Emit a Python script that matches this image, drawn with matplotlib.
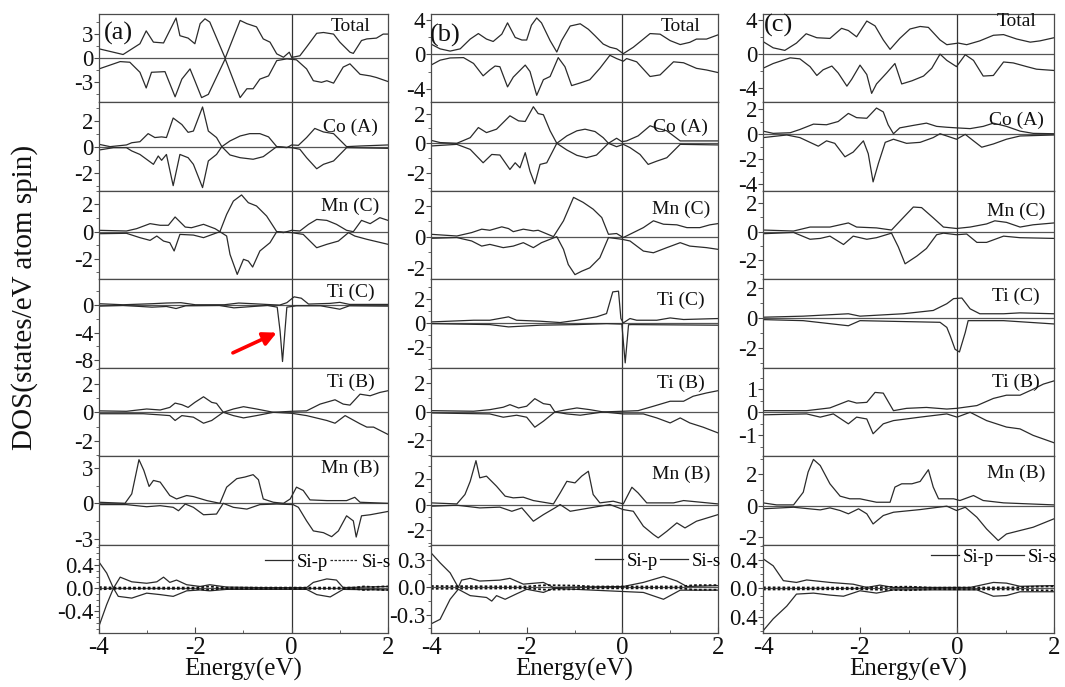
import matplotlib
matplotlib.use('Agg')
from matplotlib import pyplot as plt
from matplotlib.lines import Line2D
from matplotlib.ticker import AutoMinorLocator, FixedLocator, FixedFormatter, MultipleLocator

plt.rcParams['font.family'] = ['Liberation Serif', 'DejaVu Serif']
plt.rcParams['axes.unicode_minus'] = False

# ---------------- data: (energy eV, DOS) ----------------
# column (a)
A_TOTAL_UP = [(-4.00, 1.17), (-3.50, 0.46), (-3.15, 1.8), (-3.02, 3.4), (-2.87, 2.0), (-2.66, 1.9), (-2.53, 3.46),
              (-2.40, 5.0), (-2.32, 2.8), (-2.15, 2.5), (-2.01, 1.8), (-1.90, 4.3), (-1.80, 4.9), (-1.70, 4.5),
              (-1.38, 0.0), (-1.07, 4.7), (-0.93, 4.3), (-0.73, 3.9), (-0.59, 2.4), (-0.45, 2.0), (-0.31, 0.54),
              (-0.17, 0.12), (-0.05, 0.75), (0.00, 0.1), (0.17, 0.3), (0.31, 1.4), (0.52, 3.1), (0.66, 3.2),
              (0.87, 3.0), (1.00, 2.0), (1.21, 0.75), (1.28, 0.6), (1.45, 2.2), (1.56, 2.4), (1.76, 2.5),
              (1.90, 3.0), (2.00, 3.0)]
A_TOTAL_DN = [(-4.00, -1.33), (-3.56, -0.42), (-3.36, -0.5), (-3.15, -1.75), (-3.02, -3.7), (-2.91, -1.75),
              (-2.63, -1.67), (-2.42, -4.8), (-2.28, -2.6), (-2.11, -1.33), (-2.01, -2.8), (-1.87, -4.9),
              (-1.73, -4.5), (-1.38, -0.08), (-1.07, -4.9), (-0.93, -3.8), (-0.80, -3.8), (-0.66, -2.6),
              (-0.48, -2.2), (-0.31, -0.3), (-0.10, -0.08), (0.10, -0.2), (0.31, -1.33), (0.45, -2.8),
              (0.62, -3.0), (0.73, -2.8), (0.87, -3.1), (1.07, -1.1), (1.21, -0.7), (1.42, -2.0), (1.63, -2.2),
              (1.76, -2.4), (2.00, -2.9)]
A_COA_UP = [(-4.00, 0.18), (-3.77, 0.0), (-3.43, 0.13), (-3.32, 0.3), (-3.15, 0.38), (-2.98, 1.0), (-2.84, 0.7),
            (-2.70, 0.75), (-2.60, 0.7), (-2.46, 2.2), (-2.28, 1.7), (-2.15, 1.1), (-2.04, 1.2), (-1.85, 3.05),
            (-1.73, 1.2), (-1.56, 0.7), (-1.45, 0.0), (-1.28, 0.44), (-1.07, 0.82), (-0.87, 1.0), (-0.66, 1.0),
            (-0.48, 0.75), (-0.31, 0.0), (-0.10, -0.08), (0.00, 0.13), (0.14, 0.1), (0.31, 0.7), (0.48, 1.4),
            (0.66, 1.13), (0.87, 1.0), (1.14, 0.0), (1.42, 0.05), (2.00, 0.13)]
A_COA_DN = [(-4.00, -0.26), (-3.70, -0.08), (-3.43, -0.08), (-3.32, -0.33), (-3.15, -0.6), (-2.87, -1.36),
            (-2.77, -0.72), (-2.70, -1.05), (-2.60, -0.6), (-2.46, -3.0), (-2.32, -0.6), (-2.15, -0.85),
            (-2.04, -1.36), (-1.85, -3.15), (-1.73, -1.1), (-1.56, -0.6), (-1.45, 0.0), (-1.28, -0.64),
            (-1.07, -0.85), (-0.80, -0.97), (-0.59, -0.77), (-0.31, 0.0), (0.00, -0.08), (0.17, -0.2),
            (0.31, -0.85), (0.52, -1.7), (0.66, -1.36), (0.87, -1.1), (1.14, -0.08), (2.00, -0.13)]
A_MNC_UP = [(-4.00, 0.1), (-3.43, 0.05), (-3.22, 0.22), (-2.94, 0.59), (-2.73, 0.47), (-2.56, 0.47), (-2.42, 1.08),
            (-2.21, 0.34), (-2.08, 0.29), (-1.83, 0.54), (-1.59, 0.22), (-1.49, 0.0), (-1.35, 1.27), (-1.21, 2.25),
            (-1.04, 2.7), (-0.90, 2.13), (-0.73, 1.89), (-0.52, 1.15), (-0.31, 0.0), (-0.17, -0.07), (0.00, 0.1),
            (0.17, 0.05), (0.35, 0.54), (0.52, 0.9), (0.73, 0.83), (0.93, 0.54), (1.14, 0.1), (1.28, 0.0),
            (1.45, 0.83), (1.63, 0.59), (1.83, 1.03), (2.00, 0.83)]
A_MNC_DN = [(-4.00, -0.15), (-3.43, -0.12), (-3.15, -0.44), (-2.94, -0.64), (-2.80, -0.32), (-2.66, -0.69),
            (-2.53, -0.81), (-2.44, -1.42), (-2.32, -0.2), (-2.04, -0.25), (-1.83, -0.44), (-1.49, 0.0),
            (-1.35, -0.32), (-1.28, -1.67), (-1.13, -3.14), (-1.00, -2.03), (-0.90, -2.16), (-0.81, -2.6),
            (-0.66, -1.42), (-0.45, -0.81), (-0.31, 0.0), (0.00, -0.07), (0.24, -0.2), (0.52, -1.18),
            (0.73, -0.93), (0.97, -0.69), (1.18, -0.07), (1.31, -0.32), (1.56, -0.56), (2.00, -0.93)]
A_TIC_UP = [(-4.00, 0.2), (-3.50, 0.05), (-2.90, 0.2), (-2.60, 0.3), (-2.30, 0.35), (-2.00, 0.05), (-1.40, 0.05),
            (-1.10, 0.3), (-0.80, 0.2), (-0.40, 0.05), (-0.25, 0.0), (-0.10, 0.35), (0.05, 1.2), (0.20, 1.0),
            (0.35, 0.15), (0.80, 0.25), (1.00, 0.4), (1.20, 0.1), (2.00, 0.1)]
A_TIC_DN = [(-4.00, -0.15), (-3.50, -0.05), (-2.90, -0.3), (-2.60, -0.2), (-2.40, -0.5), (-2.20, -0.1),
            (-1.50, -0.05), (-1.20, -0.4), (-0.90, -0.25), (-0.50, -0.05), (-0.30, -0.3), (-0.24, -3.8),
            (-0.19, -8.2), (-0.14, -3.8), (-0.10, -0.3), (0.10, -0.1), (0.60, -0.1), (1.00, -0.6), (1.20, -0.1),
            (2.00, -0.15)]
A_TIB_UP = [(-4.00, 0.1), (-3.43, 0.07), (-3.01, 0.23), (-2.73, 0.16), (-2.53, 0.34), (-2.42, 0.64), (-2.28, 0.53),
            (-2.15, 0.34), (-2.01, 0.69), (-1.83, 1.08), (-1.66, 0.69), (-1.56, 0.62), (-1.42, 0.0), (-1.21, 0.23),
            (-1.00, 0.39), (-0.73, 0.23), (-0.38, 0.0), (0.00, 0.07), (0.31, 0.1), (0.59, 0.57), (0.90, 0.87),
            (1.07, 0.57), (1.21, 0.5), (1.42, 1.26), (1.63, 1.15), (1.83, 1.38), (2.00, 1.5)]
A_TIB_DN = [(-4.00, -0.1), (-3.08, -0.1), (-2.73, -0.18), (-2.53, -0.23), (-2.42, -0.57), (-2.28, -0.23),
            (-2.04, -0.34), (-1.83, -0.76), (-1.66, -0.57), (-1.42, 0.0), (-1.21, -0.23), (-1.00, -0.39),
            (-0.73, -0.23), (-0.38, 0.0), (0.00, -0.07), (0.31, -0.23), (0.73, -0.57), (0.90, -0.76),
            (1.11, -0.23), (1.42, -0.8), (1.56, -1.03), (1.70, -1.03), (2.00, -1.54)]
A_MNB_UP = [(-4.00, 0.09), (-3.46, 0.0), (-3.32, 0.8), (-3.17, 3.7), (-3.07, 2.8), (-2.96, 1.43), (-2.87, 1.94),
            (-2.73, 1.8), (-2.53, 0.66), (-2.39, 0.37), (-2.18, 0.66), (-2.04, 0.57), (-1.76, 0.23), (-1.49, 0.0),
            (-1.35, 1.37), (-1.14, 2.09), (-0.97, 2.23), (-0.80, 2.43), (-0.69, 2.0), (-0.59, 0.37), (-0.38, 0.09),
            (-0.17, 0.0), (-0.03, 0.37), (0.10, 1.37), (0.24, 1.09), (0.38, 0.29), (0.73, 0.23), (1.14, 0.23),
            (1.31, 0.51), (1.42, 0.09), (2.00, 0.0)]
A_MNB_DN = [(-4.00, -0.11), (-3.43, -0.11), (-3.01, -0.29), (-2.73, -0.2), (-2.46, -0.34), (-2.35, -0.63),
            (-2.21, -0.06), (-2.04, -0.34), (-1.83, -0.97), (-1.56, -0.91), (-1.42, 0.0), (-1.21, -0.34),
            (-0.93, -0.49), (-0.66, -0.11), (-0.31, -0.06), (0.03, -0.11), (0.14, -0.34), (0.31, -1.49),
            (0.45, -2.34), (0.66, -2.49), (0.83, -2.83), (0.97, -2.34), (1.14, -1.06), (1.28, -1.49),
            (1.34, -2.86), (1.45, -1.06), (1.63, -0.97), (2.00, -0.69)]
A_SIP_UP = [(-4.00, 0.45), (-3.84, 0.26), (-3.70, 0.0), (-3.56, 0.19), (-3.32, 0.11), (-3.01, 0.085), (-2.80, 0.11),
            (-2.66, 0.19), (-2.53, 0.1), (-2.39, 0.14), (-2.18, 0.06), (-1.90, 0.03), (-1.70, 0.06), (-1.35, 0.02),
            (-0.66, 0.01), (0.31, 0.01), (0.45, 0.1), (0.73, 0.16), (0.93, 0.14), (1.07, 0.01), (2.00, 0.03)]
A_SIP_DN = [(-4.00, -0.65), (-3.84, -0.28), (-3.70, 0.0), (-3.60, -0.14), (-3.32, -0.17), (-3.01, -0.085),
            (-2.73, -0.11), (-2.46, -0.14), (-2.18, -0.045), (-1.90, -0.03), (-1.70, -0.045), (-1.35, -0.02),
            (0.31, -0.02), (0.52, -0.11), (0.80, -0.15), (1.07, -0.02), (2.00, -0.03)]
A_SIS_UP = [(-4.00, 0.02), (-3.70, 0.01), (-2.00, 0.01), (-1.70, 0.03), (-1.50, 0.01), (1.30, 0.01), (1.50, 0.03),
            (1.70, 0.02), (1.90, 0.03), (2.00, 0.03)]
A_SIS_DN = [(-4.00, -0.02), (-3.70, -0.01), (-2.00, -0.01), (-1.70, -0.03), (-1.50, -0.01), (1.30, -0.01),
            (1.50, -0.03), (1.70, -0.02), (1.90, -0.03), (2.00, -0.03)]

# column (b)
B_TOTAL_UP = [(-4.00, 1.2), (-3.81, 0.64), (-3.60, 0.38), (-3.39, 0.64), (-3.18, 1.78), (-3.01, 2.42), (-2.84, 1.78),
              (-2.70, 1.5), (-2.52, 2.35), (-2.40, 3.67), (-2.24, 1.97), (-2.10, 1.67), (-2.00, 1.67), (-1.90, 3.4),
              (-1.79, 4.24), (-1.69, 3.67), (-1.51, 1.6), (-1.37, 0.27), (-1.27, 1.6), (-1.09, 3.3), (-0.88, 3.56),
              (-0.71, 2.92), (-0.57, 2.16), (-0.40, 1.2), (-0.26, 0.83), (-0.12, 0.64), (0.02, 0.08), (0.23, 0.83),
              (0.44, 1.78), (0.58, 2.42), (0.79, 2.35), (1.00, 1.6), (1.21, 1.14), (1.41, 1.4), (1.55, 1.78),
              (1.76, 1.78), (2.00, 2.27)]
B_TOTAL_DN = [(-4.00, -1.25), (-3.81, -0.68), (-3.60, -0.42), (-3.32, -0.38), (-3.11, -1.06), (-2.91, -2.5),
              (-2.77, -1.82), (-2.66, -1.36), (-2.56, -1.44), (-2.40, -3.79), (-2.28, -2.65), (-2.03, -1.25),
              (-1.93, -2.0), (-1.79, -4.77), (-1.65, -2.95), (-1.51, -2.58), (-1.34, -0.38), (-1.20, -1.44),
              (-1.06, -3.64), (-0.88, -3.33), (-0.68, -2.95), (-0.47, -1.63), (-0.26, -0.11), (-0.12, -0.49),
              (0.02, -0.8), (0.09, -0.49), (0.30, -0.87), (0.58, -2.58), (0.79, -2.39), (1.07, -0.87),
              (1.28, -0.98), (1.55, -1.63), (1.76, -1.82), (2.00, -2.12)]
B_COA_UP = [(-4.00, 0.2), (-3.81, 0.05), (-3.46, 0.0), (-3.18, 0.38), (-3.01, 1.06), (-2.84, 0.72), (-2.63, 0.95),
            (-2.35, 1.85), (-2.17, 1.51), (-2.03, 1.47), (-1.86, 2.46), (-1.76, 2.0), (-1.65, 1.92), (-1.51, 0.84),
            (-1.37, 0.0), (-1.16, 0.5), (-0.95, 0.84), (-0.78, 0.95), (-0.57, 0.79), (-0.40, 0.38), (-0.29, 0.0),
            (-0.12, 0.34), (-0.01, 0.11), (0.09, 0.16), (0.33, 0.5), (0.58, 1.18), (0.72, 1.02), (0.93, 0.84),
            (1.21, 0.16), (2.00, 0.16)]
B_COA_DN = [(-4.00, -0.18), (-3.46, -0.07), (-3.18, -0.41), (-2.91, -1.31), (-2.73, -0.75), (-2.56, -0.79),
            (-2.35, -1.76), (-2.24, -1.31), (-2.14, -1.65), (-2.03, -0.63), (-1.93, -1.88), (-1.83, -2.73),
            (-1.72, -1.42), (-1.58, -1.31), (-1.37, 0.0), (-1.16, -0.45), (-0.95, -0.81), (-0.75, -0.97),
            (-0.54, -0.79), (-0.29, 0.0), (-0.12, -0.23), (0.02, -0.07), (0.16, -0.29), (0.37, -0.75),
            (0.54, -1.42), (0.72, -1.2), (0.93, -0.97), (1.21, -0.07), (2.00, -0.11)]
B_MNC_UP = [(-4.00, 0.15), (-3.46, 0.04), (-3.15, 0.26), (-2.94, 0.48), (-2.77, 0.41), (-2.52, 0.63), (-2.38, 0.52),
            (-2.28, 0.32), (-2.07, 0.48), (-1.86, 0.37), (-1.76, 0.41), (-1.44, 0.0), (-1.23, 1.02), (-1.02, 2.53),
            (-0.82, 2.21), (-0.61, 1.77), (-0.43, 1.23), (-0.29, 0.15), (-0.12, 0.2), (0.02, -0.06), (0.23, 0.26),
            (0.44, 0.58), (0.65, 1.02), (0.86, 0.8), (1.14, 0.76), (1.35, 0.58), (1.62, 0.58), (1.83, 0.76),
            (2.00, 0.84)]
B_MNC_DN = [(-4.00, -0.11), (-3.46, -0.06), (-3.15, -0.28), (-2.94, -0.61), (-2.77, -0.5), (-2.49, -0.71),
            (-2.28, -0.61), (-2.07, -0.39), (-1.86, -0.71), (-1.69, -0.39), (-1.37, 0.0), (-1.23, -0.82),
            (-1.13, -1.8), (-0.99, -2.45), (-0.85, -2.23), (-0.68, -2.01), (-0.47, -1.36), (-0.29, -0.06),
            (-0.01, -0.17), (0.16, -0.28), (0.44, -0.93), (0.65, -1.04), (0.93, -0.71), (1.21, -0.39),
            (1.41, -0.61), (1.76, -0.71), (2.00, -0.82)]
B_TIC_UP = [(-4.00, 0.08), (-3.11, 0.22), (-2.77, 0.22), (-2.38, 0.5), (-2.21, 0.22), (-1.72, 0.14), (-1.30, 0.03),
            (-0.95, 0.22), (-0.54, 0.5), (-0.33, 0.77), (-0.20, 2.56), (-0.08, 2.62), (-0.03, 0.36), (0.02, 0.0),
            (0.16, 0.36), (0.30, 0.22), (0.72, 0.22), (1.00, 0.41), (1.28, 0.28), (2.00, 0.36)]
B_TIC_DN = [(-4.00, -0.06), (-2.77, -0.14), (-2.38, -0.33), (-1.72, -0.19), (-0.95, -0.14), (-0.33, -0.06),
            (-0.01, -0.1), (0.02, -1.5), (0.06, -3.3), (0.10, -1.5), (0.13, -0.15), (0.20, -0.14), (2.00, -0.19)]
B_TIB_UP = [(-4.00, 0.09), (-3.11, 0.05), (-2.77, 0.16), (-2.49, 0.33), (-2.35, 0.51), (-2.17, 0.28), (-2.00, 0.4),
            (-1.83, 0.93), (-1.65, 0.58), (-1.51, 0.51), (-1.41, 0.0), (-1.16, 0.16), (-0.95, 0.28), (-0.68, 0.16),
            (-0.40, 0.0), (0.02, 0.05), (0.33, 0.09), (0.65, 0.4), (1.00, 0.75), (1.28, 0.75), (1.48, 1.1),
            (1.76, 1.33), (2.00, 1.49)]
B_TIB_DN = [(-4.00, -0.07), (-2.77, -0.14), (-2.49, -0.37), (-2.21, -0.23), (-2.00, -0.37), (-1.83, -1.07),
            (-1.65, -0.65), (-1.41, 0.0), (-1.16, -0.14), (-0.88, -0.23), (-0.40, 0.0), (0.02, -0.14),
            (0.44, -0.14), (0.72, -0.42), (1.00, -0.77), (1.21, -0.42), (1.41, -0.77), (1.69, -1.07),
            (2.00, -1.47)]
B_MNB_UP = [(-4.00, 0.13), (-3.46, 0.05), (-3.29, 0.78), (-3.18, 1.8), (-3.06, 3.4), (-2.98, 2.07), (-2.84, 2.2),
            (-2.63, 1.42), (-2.45, 0.65), (-2.28, 0.52), (-2.07, 0.57), (-1.86, 0.31), (-1.44, 0.05), (-1.30, 0.9),
            (-1.16, 1.8), (-0.99, 1.68), (-0.85, 2.2), (-0.71, 2.58), (-0.61, 0.78), (-0.47, 0.13), (-0.19, 0.26),
            (0.02, 0.05), (0.20, 1.34), (0.33, 0.9), (0.51, 0.13), (1.07, 0.13), (1.28, 0.31), (2.00, 0.05)]
B_MNB_DN = [(-4.00, -0.13), (-3.46, -0.05), (-2.98, -0.26), (-2.56, -0.2), (-2.31, -0.52), (-2.10, -0.26),
            (-1.86, -1.29), (-1.65, -0.78), (-1.41, -0.26), (-1.30, 0.0), (-1.09, -0.52), (-0.68, -0.26),
            (-0.26, 0.0), (0.02, -0.39), (0.23, -0.52), (0.44, -1.68), (0.65, -2.32), (0.75, -2.58),
            (0.93, -2.07), (1.14, -1.42), (1.31, -1.81), (1.55, -1.29), (2.00, -0.78)]
B_SIP_UP = [(-4.00, 0.38), (-3.81, 0.27), (-3.60, 0.16), (-3.43, 0.0), (-3.36, 0.08), (-3.18, 0.1), (-2.98, 0.07),
            (-2.56, 0.08), (-2.35, 0.1), (-2.07, 0.036), (-1.65, 0.055), (-1.44, 0.0), (0.02, 0.01), (0.44, 0.055),
            (0.86, 0.12), (1.14, 0.07), (1.35, 0.01), (2.00, 0.02)]
B_SIP_DN = [(-4.00, -0.4), (-3.81, -0.35), (-3.60, -0.13), (-3.43, -0.02), (-3.18, -0.09), (-2.84, -0.11),
            (-2.73, -0.15), (-2.63, -0.09), (-2.45, -0.13), (-2.21, -0.07), (-2.00, -0.02), (-1.65, -0.055),
            (-1.44, -0.01), (0.44, -0.055), (0.86, -0.13), (1.21, -0.03), (2.00, -0.03)]
B_SIS_UP = [(-4.00, 0.015), (-2.00, 0.01), (-1.60, 0.025), (-1.00, 0.02), (-0.60, 0.01), (1.20, 0.01),
            (1.50, 0.025), (2.00, 0.025)]
B_SIS_DN = [(-4.00, -0.015), (-2.00, -0.01), (-1.60, -0.025), (-1.00, -0.02), (-0.60, -0.01), (1.20, -0.01),
            (1.50, -0.025), (2.00, -0.025)]

# column (c)
C_TOTAL_UP = [(-4.00, 1.48), (-3.79, 0.74), (-3.55, 0.44), (-3.31, 1.3), (-3.11, 2.4), (-2.89, 1.93), (-2.62, 1.85),
              (-2.38, 3.04), (-2.24, 2.78), (-2.07, 2.04), (-1.86, 3.9), (-1.69, 3.33), (-1.52, 1.67), (-1.38, 0.56),
              (-1.18, 1.85), (-0.97, 2.96), (-0.76, 3.26), (-0.59, 3.15), (-0.35, 1.67), (-0.21, 1.11), (0.03, 1.3),
              (0.20, 1.11), (0.47, 1.56), (0.75, 2.22), (0.96, 2.3), (1.23, 1.78), (1.51, 1.41), (1.71, 1.56),
              (2.00, 1.93)]
C_TOTAL_DN = [(-4.00, -1.67), (-3.79, -1.11), (-3.44, -0.44), (-3.24, -0.56), (-3.03, -1.48), (-2.89, -2.52),
              (-2.76, -1.85), (-2.58, -1.41), (-2.45, -2.22), (-2.27, -3.78), (-2.17, -2.96), (-2.00, -1.3),
              (-1.86, -2.41), (-1.76, -4.63), (-1.66, -3.52), (-1.45, -2.22), (-1.28, -1.11), (-1.14, -3.52),
              (-0.93, -3.15), (-0.69, -2.59), (-0.52, -1.67), (-0.35, 0.0), (-0.21, -0.74), (-0.01, -1.48),
              (0.17, -0.07), (0.34, -0.74), (0.54, -2.59), (0.75, -2.52), (0.96, -0.93), (1.16, -1.04),
              (1.44, -1.48), (1.64, -1.78), (2.00, -1.93)]
C_COA_UP = [(-4.00, 0.26), (-3.79, 0.08), (-3.44, 0.13), (-3.24, 0.39), (-2.96, 0.82), (-2.69, 0.77), (-2.45, 1.03),
            (-2.24, 1.68), (-2.07, 1.34), (-1.86, 1.29), (-1.66, 2.11), (-1.52, 1.8), (-1.42, 0.77), (-1.31, 0.05),
            (-1.18, 0.52), (-0.90, 0.72), (-0.63, 0.9), (-0.42, 0.64), (-0.21, 0.57), (-0.01, 0.52), (0.27, 0.46),
            (0.54, 0.64), (0.75, 0.9), (1.02, 0.64), (1.30, 0.26), (1.57, 0.08), (2.00, 0.05)]
C_COA_DN = [(-4.00, -0.26), (-3.51, -0.05), (-3.24, -0.26), (-2.86, -0.95), (-2.69, -0.52), (-2.52, -0.72),
            (-2.31, -1.8), (-2.14, -1.42), (-1.93, -0.52), (-1.83, -1.55), (-1.73, -3.81), (-1.62, -2.32),
            (-1.48, -0.64), (-1.31, -0.39), (-1.04, -0.72), (-0.76, -0.64), (-0.49, -0.26), (-0.35, 0.05),
            (-0.21, -0.13), (-0.01, -0.39), (0.17, 0.0), (0.34, -0.52), (0.51, -1.03), (0.75, -0.77),
            (1.02, -0.39), (1.30, -0.13), (2.00, -0.05)]
C_MNC_UP = [(-4.00, 0.11), (-3.37, 0.04), (-3.03, 0.32), (-2.62, 0.32), (-2.24, 0.61), (-2.07, 0.32), (-1.66, 0.26),
            (-1.35, 0.11), (-1.14, 0.87), (-0.90, 1.73), (-0.73, 1.69), (-0.49, 0.97), (-0.28, 0.32), (-0.01, 0.22),
            (0.27, 0.32), (0.61, 0.54), (0.78, 0.76), (1.02, 0.65), (1.30, 0.32), (1.57, 0.48), (2.00, 0.61)]
C_MNC_DN = [(-4.00, -0.15), (-3.37, -0.06), (-3.03, -0.54), (-2.82, -0.48), (-2.62, -0.32), (-2.34, -0.91),
            (-2.14, -0.32), (-1.86, -0.54), (-1.66, -0.43), (-1.35, -0.11), (-1.21, -1.08), (-1.07, -2.27),
            (-0.83, -1.73), (-0.63, -1.19), (-0.42, -0.22), (-0.28, -0.11), (-0.01, -0.22), (0.20, -0.17),
            (0.41, -0.76), (0.61, -0.76), (0.96, -0.32), (1.30, -0.43), (2.00, -0.48)]
C_TIC_UP = [(-4.00, 0.07), (-3.17, 0.14), (-2.24, 0.3), (-2.00, 0.14), (-1.11, 0.3), (-0.49, 0.52), (-0.21, 0.97),
            (-0.07, 1.31), (0.10, 1.35), (0.27, 0.63), (0.47, 0.3), (0.96, 0.3), (1.30, 0.36), (2.00, 0.3)]
C_TIC_DN = [(-4.00, -0.09), (-3.17, -0.16), (-2.24, -0.5), (-2.00, -0.16), (-1.11, -0.22), (-0.35, -0.27),
            (-0.21, -0.61), (-0.14, -1.17), (-0.04, -2.07), (0.05, -2.25), (0.17, -0.95), (0.23, -0.16),
            (0.96, -0.16), (2.00, -0.38)]
C_TIB_UP = [(-4.00, 0.07), (-3.10, 0.07), (-2.62, 0.19), (-2.24, 0.5), (-2.07, 0.4), (-1.86, 0.43), (-1.69, 0.86),
            (-1.52, 0.83), (-1.31, 0.07), (-1.04, 0.17), (-0.63, 0.21), (-0.21, 0.14), (-0.01, 0.17), (0.41, 0.29),
            (0.75, 0.6), (1.02, 0.74), (1.30, 0.74), (1.57, 1.0), (1.78, 1.22), (2.00, 1.36)]
C_TIB_DN = [(-4.00, -0.11), (-3.10, -0.07), (-2.82, -0.21), (-2.55, -0.07), (-2.24, -0.5), (-2.07, -0.21),
            (-1.86, -0.29), (-1.73, -0.93), (-1.52, -0.5), (-1.31, -0.36), (-0.76, -0.21), (-0.21, -0.07),
            (0.00, -0.21), (0.27, 0.0), (0.61, -0.36), (1.02, -0.64), (1.30, -0.72), (1.57, -1.0), (2.00, -1.32)]
C_MNB_UP = [(-4.00, 0.17), (-3.72, 0.04), (-3.37, 0.04), (-3.17, 0.85), (-3.07, 2.14), (-2.96, 2.95), (-2.82, 2.56),
            (-2.62, 1.39), (-2.41, 0.6), (-2.21, 0.43), (-2.00, 0.43), (-1.66, 0.21), (-1.38, 0.21), (-1.28, 1.18),
            (-1.14, 1.39), (-0.93, 1.39), (-0.76, 1.54), (-0.59, 2.29), (-0.49, 1.18), (-0.38, 0.43), (-0.07, 0.43),
            (0.06, 0.32), (0.34, 0.64), (0.54, 0.32), (0.96, 0.17), (2.00, 0.04)]
C_MNB_DN = [(-4.00, -0.21), (-3.37, -0.11), (-2.82, -0.28), (-2.62, -0.15), (-2.41, -0.32), (-2.24, -0.53),
            (-2.03, -0.21), (-1.86, -0.53), (-1.73, -1.18), (-1.52, -0.64), (-1.31, -0.43), (-0.76, -0.26),
            (-0.21, -0.04), (-0.01, -0.32), (0.17, -0.11), (0.41, -0.75), (0.61, -1.5), (0.85, -2.24),
            (1.02, -1.82), (1.30, -1.6), (1.57, -1.39), (2.00, -0.85)]
C_SIP_UP = [(-4.00, 0.42), (-3.79, 0.32), (-3.58, 0.11), (-3.31, 0.085), (-3.10, 0.12), (-2.62, 0.085),
            (-2.14, 0.06), (-1.86, 0.014), (-1.59, 0.047), (-1.31, 0.014), (0.27, 0.014), (0.75, 0.085),
            (1.02, 0.075), (1.30, 0.03), (2.00, 0.04)]
C_SIP_DN = [(-4.00, -0.6), (-3.79, -0.43), (-3.51, -0.25), (-3.31, -0.08), (-2.96, -0.066), (-2.62, -0.094),
            (-2.34, -0.11), (-2.00, -0.033), (-1.66, -0.066), (-1.31, -0.02), (0.41, -0.02), (0.75, -0.11),
            (1.02, -0.1), (1.30, -0.047), (2.00, -0.047)]
C_SIS_UP = [(-4.00, 0.015), (-2.00, 0.01), (-1.50, 0.02), (-1.00, 0.025), (-0.50, 0.01), (1.20, 0.015),
            (1.60, 0.025), (2.00, 0.03)]
C_SIS_DN = [(-4.00, -0.015), (-2.00, -0.01), (-1.50, -0.02), (-1.00, -0.025), (-0.50, -0.01), (1.20, -0.015),
            (1.60, -0.025), (2.00, -0.03)]

PANEL_NAMES = ['Total', 'Co (A)', 'Mn (C)', 'Ti (C)', 'Ti (B)', 'Mn (B)', None]
COLUMN_LETTERS = ['(a)', '(b)', '(c)']
CURVES = [
    [(A_TOTAL_UP, A_TOTAL_DN), (A_COA_UP, A_COA_DN), (A_MNC_UP, A_MNC_DN), (A_TIC_UP, A_TIC_DN),
     (A_TIB_UP, A_TIB_DN), (A_MNB_UP, A_MNB_DN), (A_SIP_UP, A_SIP_DN, A_SIS_UP, A_SIS_DN)],
    [(B_TOTAL_UP, B_TOTAL_DN), (B_COA_UP, B_COA_DN), (B_MNC_UP, B_MNC_DN), (B_TIC_UP, B_TIC_DN),
     (B_TIB_UP, B_TIB_DN), (B_MNB_UP, B_MNB_DN), (B_SIP_UP, B_SIP_DN, B_SIS_UP, B_SIS_DN)],
    [(C_TOTAL_UP, C_TOTAL_DN), (C_COA_UP, C_COA_DN), (C_MNC_UP, C_MNC_DN), (C_TIC_UP, C_TIC_DN),
     (C_TIB_UP, C_TIB_DN), (C_MNB_UP, C_MNB_DN), (C_SIP_UP, C_SIP_DN, C_SIS_UP, C_SIS_DN)],
]
Y_TICKS = [
    [[-3, 0, 3], [-2, 0, 2], [-2, 0, 2], [-8, -4, 0], [-2, 0, 2], [-3, 0, 3], [-0.4, 0.0, 0.4]],
    [[-4, 0, 4], [-2, 0, 2], [-2, 0, 2], [-2, 0, 2], [-2, 0, 2], [-2, 0, 2], [-0.3, 0.0, 0.3]],
    [[-4, 0, 4], [-4, -2, 0, 2], [-2, 0, 2], [-2, 0, 2], [-1, 0, 1], [-2, 0, 2], [-0.4, 0.0, 0.4]],
]
SI_TICK_LABELS = [['-0.4', '0.0', '0.4'], ['-0.3', '0.0', '0.3'], ['0.4', '0.0', '0.4']]

# ---------------- layout / style ----------------
Y_LIMS = [
    [(-5.5, 5.5), (-3.4, 3.4), (-3.5, 3.0), (-9.1, 3.75), (-3.05, 3.1), (-3.5, 4.0), (-0.77, 0.75)],
    [(-5.6, 4.7), (-3.2, 2.75), (-2.75, 2.95), (-3.7, 3.6), (-3.1, 3.1), (-3.1, 3.75), (-0.5, 0.47)],
    [(-5.7, 4.73), (-4.53, 2.56), (-3.36, 2.87), (-3.3, 2.6), (-1.9, 1.93), (-2.5, 3.16), (-0.63, 0.62)],
]
NAME_Y = [
    [0.856, 0.717, 0.83, 0.853, 0.83, 0.857],
    [0.856, 0.717, 0.793, 0.767, 0.822, 0.793],
    [0.913, 0.80, 0.766, 0.804, 0.83, 0.80],
]
LETTER_POS = [(0.067, 0.78), (0.049, 0.76), (0.053, 0.876)]
LEGEND_Y = [0.80, 0.81, 0.86]
SIS_LEGEND_STYLE = [(0, (2, 1.2)), '-', '-']

FIG_W, FIG_H = 1065, 687
COL_PX = [(99, 289), (431, 287), (763, 291)]
TOP_PX, ROW_PX = 14, 88.43
LINE_C = '#2b2b2b'
AXIS_C = '#4a4a4a'

fig = plt.figure(figsize=(FIG_W / 100, FIG_H / 100), dpi=100)

for c, (left_px, width_px) in enumerate(COL_PX):
    axes = []
    for r in range(7):
        bottom_px = TOP_PX + (r + 1) * ROW_PX
        ax = fig.add_axes([left_px / FIG_W, 1 - bottom_px / FIG_H, width_px / FIG_W, ROW_PX / FIG_H])
        axes.append(ax)
        curves = CURVES[c][r]
        up, dn = curves[0], curves[1]
        ax.plot(*zip(*up), color=LINE_C, lw=0.9)
        ax.plot(*zip(*dn), color=LINE_C, lw=0.9)
        if len(curves) > 2:
            ax.plot(*zip(*curves[2]), color='#111111', lw=1.3, ls=(0, (1.5, 1.2)))
            ax.plot(*zip(*curves[3]), color='#111111', lw=1.3, ls=(0, (1.5, 1.2)))
        ax.axhline(0, color='#555555', lw=0.9, zorder=0)
        ax.axvline(0, color='#333333', lw=0.9, zorder=0)

        ax.set_xlim(-4, 2)
        ax.set_ylim(*Y_LIMS[c][r])
        ax.yaxis.set_major_locator(FixedLocator(Y_TICKS[c][r]))
        if r == 6:
            ax.yaxis.set_major_formatter(FixedFormatter(SI_TICK_LABELS[c]))
            ax.yaxis.set_minor_locator(MultipleLocator(0.1 if c != 1 else 0.15))
        else:
            ax.yaxis.set_minor_locator(AutoMinorLocator(2))
        ax.tick_params(axis='y', which='major', direction='out', length=3.5, width=0.8,
                       labelsize=16.5, pad=0.5, colors=AXIS_C, labelcolor='#111111')
        ax.tick_params(axis='y', which='minor', direction='out', length=2, width=0.6, colors=AXIS_C)
        for s in ax.spines.values():
            s.set_color(AXIS_C)
            s.set_linewidth(0.9)

        if PANEL_NAMES[r] is not None:
            ax.text(0.87, NAME_Y[c][r], PANEL_NAMES[r], transform=ax.transAxes, fontsize=14,
                    ha='center', va='center', color='#111111')

        if r < 6:
            ax.tick_params(axis='x', which='both', bottom=False, labelbottom=False)
        else:
            ax.set_xticks([-4, -2, 0, 2])
            ax.set_xticklabels(['-4', '-2', '0', '2'])
            ax.xaxis.set_minor_locator(MultipleLocator(1))
            ax.tick_params(axis='x', which='major', direction='in', length=4, width=0.8,
                           labelsize=18, pad=3, colors=AXIS_C, labelcolor='#111111')
            ax.tick_params(axis='x', which='minor', direction='in', length=2.5, width=0.6, colors=AXIS_C)
            ax.set_xlabel('Energy(eV)', fontsize=18, labelpad=-1, color='#111111')
            handles = [Line2D([], [], color=LINE_C, lw=0.9),
                       Line2D([], [], color=LINE_C, lw=0.9, ls=SIS_LEGEND_STYLE[c])]
            ax.legend(handles, ['Si-p', 'Si-s'], loc='center right', bbox_to_anchor=(1.01, LEGEND_Y[c]),
                      ncol=2, frameon=False, fontsize=13.5, handlelength=1.5, handletextpad=0.2,
                      columnspacing=0.1, borderaxespad=0, borderpad=0)

    axes[0].text(*LETTER_POS[c], COLUMN_LETTERS[c], transform=axes[0].transAxes, fontsize=19,
                 ha='center', va='center', color='#111111')

    if c == 0:
        # red arrow pointing at the Ti (C) spin-down peak
        axes[3].annotate('', xy=(-0.31, -4.0), xytext=(-1.22, -6.94),
                         arrowprops=dict(arrowstyle='-|>', color='red', lw=2.6, mutation_scale=20,
                                         shrinkA=0, shrinkB=0))

fig.text(25 / FIG_W, 1 - 297 / FIG_H, 'DOS(states/eV atom spin)', rotation=90, fontsize=21,
         ha='center', va='center', color='#111111')

plt.savefig('out.png', dpi=100)
